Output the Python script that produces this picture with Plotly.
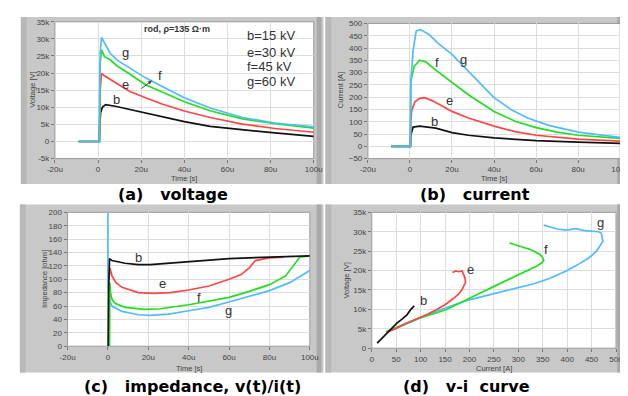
import plotly.graph_objects as go

# ---------------- data ----------------
# (a) voltage vs time  (time in microseconds, voltage in volts)
va_t_g = [-9, 0.6, 0.8, 1.0, 1.6, 3, 5.6, 9, 14.6, 22, 30, 40, 52, 67, 82, 100]
va_v_g = [0, 0, 15000, 26000, 30400, 28800, 25800, 23700, 21500, 18600, 16000, 12800, 9800, 7000, 5400, 4300]
va_t_f = [-9, 0.6, 0.8, 1.0, 1.6, 3, 5.6, 9, 14, 22, 30, 40, 52, 67, 82, 100]
va_v_f = [0, 0, 14500, 23000, 26800, 24800, 23900, 22000, 20000, 16600, 14400, 11600, 9000, 6600, 5200, 3900]
va_t_e = [-9, 0.6, 0.8, 1.0, 1.6, 3, 7, 14.6, 22, 30, 40, 52, 67, 82, 100]
va_v_e = [0, 0, 5000, 15000, 19900, 19200, 17600, 14700, 12800, 10900, 8900, 7000, 5100, 3800, 2700]
va_t_b = [-9, 0.6, 0.8, 1.2, 2, 3.5, 8, 14.6, 22, 30, 40, 52, 67, 82, 100]
va_v_b = [0, 0, 5000, 8500, 10000, 10800, 10300, 9400, 8300, 7200, 5800, 4400, 3400, 2500, 1500]

# (b) current vs time (A)
ib_t_g = [-9, 0.2, 0.4, 0.8, 1.5, 3, 5, 9, 14, 20, 25, 30, 35, 40, 48, 56, 66, 80, 100]
ib_i_g = [0, 0, 260, 300, 390, 470, 475, 455, 415, 374, 330, 282, 238, 198, 150, 115, 85, 58, 36]
ib_t_f = [-9, 0.2, 0.4, 0.8, 2, 4.6, 7.7, 12.3, 20, 27.8, 40, 50, 60, 70, 80, 100]
ib_i_f = [0, 0, 265, 280, 325, 350, 343, 310, 262, 210, 142, 102, 76, 58, 45, 32]
ib_t_e = [-9, 0.2, 0.4, 0.8, 2.3, 4.6, 7, 10.8, 20, 27.8, 40, 50, 60, 80, 100]
ib_i_e = [0, 0, 100, 145, 180, 195, 198, 185, 142, 115, 82, 60, 45, 29, 21]
ib_t_b = [-9, 0.2, 0.4, 1.5, 4.6, 12.3, 20, 27.8, 40, 50, 60, 80, 100]
ib_i_b = [0, 0, 45, 78, 82, 74, 56, 45, 34, 27, 23, 17, 12]

# (c) impedance vs time (ohm)
zc_t_g = [0, 0, 0.8, 2, 7, 15, 21, 30, 40, 50, 60, 67, 80, 90, 100]
zc_z_g = [230, 90, 68, 60, 52, 47, 46, 48, 53, 58, 66, 72, 83, 95, 113]
zc_t_f = [0.8, 0.9, 1.3, 2, 3.5, 8.5, 18, 26, 40, 50, 60, 70, 80, 88, 92, 95, 100]
zc_z_f = [0, 95, 80, 70, 64, 58, 55, 56, 62, 67, 73, 82, 92, 105, 122, 133, 135]
zc_t_e = [0.5, 1.0, 2, 4, 7, 15, 23, 31, 40, 50, 60, 66, 70, 73, 80, 87]
zc_z_e = [100, 117, 105, 95, 88, 80, 79, 80, 84, 90, 100, 107, 117, 128, 132, 133]
zc_t_b = [0.1, 0.3, 0.8, 2, 8.5, 15, 21, 30, 40, 50, 60, 70, 80, 90, 100]
zc_z_b = [0, 80, 131, 128, 124, 122, 122, 124, 127, 129, 131, 132, 133, 134, 135]

# (d) v-i curve
vi_i_b = [11, 20, 32, 42, 52, 62, 72, 80, 87]
vi_v_b = [1300, 2500, 4000, 5200, 6500, 7500, 8600, 10000, 10900]
vi_i_e = [32, 50, 65, 82, 98, 115, 132, 150, 165, 178, 185, 190, 192, 191, 188, 185, 178, 172, 165]
vi_v_e = [4200, 5100, 6100, 7000, 7800, 8800, 9900, 11200, 12600, 14000, 15100, 16200, 17000, 18000, 19000, 19900, 19700, 19900, 19500]
vi_i_f = [29, 60, 98, 125, 152, 175, 198, 220, 245, 270, 298, 320, 338, 348, 352, 350, 345, 335, 325, 310, 298, 282]
vi_v_f = [4200, 5800, 7800, 8800, 9900, 11300, 12800, 14100, 15600, 17100, 18700, 20000, 21200, 22000, 22600, 23300, 24100, 24800, 25400, 26000, 26500, 27100]
vi_i_g = [32, 80, 132, 165, 198, 230, 265, 300, 332, 365, 398, 420, 445, 460, 468, 473, 472, 470, 465, 451, 435, 418, 398, 380, 365, 352]
vi_v_g = [4200, 6700, 9500, 11000, 12400, 13400, 14500, 15500, 16600, 18000, 19900, 21400, 23300, 25000, 26600, 27500, 28300, 29600, 30000, 30200, 30300, 30800, 30400, 30700, 31200, 31700]

# tick labels
time_tickvals = [-20, 0, 20, 40, 60, 80, 100]
time_ticktext = ["-20u", "0", "20u", "40u", "60u", "80u", "100u"]
volt_tickvals = [-5000, 0, 5000, 10000, 15000, 20000, 25000, 30000, 35000]
volt_ticktext = ["-5k", "0", "5k", "10k", "15k", "20k", "25k", "30k", "35k"]
volt_tickvals_d = [0, 5000, 10000, 15000, 20000, 25000, 30000, 35000]
volt_ticktext_d = ["0", "5k", "10k", "15k", "20k", "25k", "30k", "35k"]
curr_tickvals = [-50, 0, 50, 100, 150, 200, 250, 300, 350, 400, 450, 500]
imp_tickvals = [0, 20, 40, 60, 80, 100, 120, 140, 160, 180, 200]
curr_tickvals_d = [0, 50, 100, 150, 200, 250, 300, 350, 400, 450, 500]

legend_lines = ["b=15 kV", "e=30 kV", "f=45 kV", "g=60 kV"]
NB = "\u00a0"
captions = ["(a)" + NB * 3 + "voltage", "(b)" + NB * 3 + "current",
            "(c)" + NB * 3 + "impedance," + NB + "v(t)/i(t)", "(d)" + NB * 3 + "v-i" + NB * 2 + "curve"]

# ---------------- figure ----------------
W, H = 628, 396
def px(x):
    return x / W
def py(y):
    return 1 - y / H

colors = {"b": "#111111", "e": "#ff4545", "f": "#22dd22", "g": "#50bbff"}
LW = 1.7

fig = go.Figure()

def add(xs, ys, name, xa, ya):
    fig.add_trace(go.Scatter(x=xs, y=ys, mode="lines", line=dict(color=colors[name], width=LW),
                             xaxis=xa, yaxis=ya, showlegend=False, hoverinfo="skip"))

add(va_t_b, va_v_b, "b", "x", "y")
add(va_t_e, va_v_e, "e", "x", "y")
add(va_t_f, va_v_f, "f", "x", "y")
add(va_t_g, va_v_g, "g", "x", "y")

add(ib_t_b, ib_i_b, "b", "x2", "y2")
add(ib_t_e, ib_i_e, "e", "x2", "y2")
add(ib_t_f, ib_i_f, "f", "x2", "y2")
add(ib_t_g, ib_i_g, "g", "x2", "y2")

add(zc_t_g, zc_z_g, "g", "x3", "y3")
add(zc_t_f, zc_z_f, "f", "x3", "y3")
add(zc_t_e, zc_z_e, "e", "x3", "y3")
add(zc_t_b, zc_z_b, "b", "x3", "y3")

add(vi_i_g, vi_v_g, "g", "x4", "y4")
add(vi_i_f, vi_v_f, "f", "x4", "y4")
add(vi_i_e, vi_v_e, "e", "x4", "y4")
add(vi_i_b, vi_v_b, "b", "x4", "y4")

tickfont = dict(family="Liberation Sans", size=8, color="#444")

def axis(domain, anchor, rng, tv, tt=None):
    d = dict(domain=domain, anchor=anchor, range=rng, tickvals=tv, showgrid=True,
             gridcolor="#dddddd", gridwidth=1, zeroline=False, ticks="outside", ticklen=3,
             tickcolor="#777", tickfont=tickfont, showline=False, fixedrange=True)
    if tt is not None:
        d["ticktext"] = tt
    return d

# plot-area pixel boxes (left, top, right, bottom)
boxes = {
    "a": (40, 10, 306, 150),
    "b": (361.7, 11.7, 621, 150),
    "c": (53, 205, 302, 342),
    "d": (365.7, 205, 616.7, 344),
}

def dom(box):
    l, t, r, b = box
    return [px(l), px(r)], [py(b), py(t)]

xa, ya = dom(boxes["a"])
xb, yb = dom(boxes["b"])
xc, yc = dom(boxes["c"])
xd, yd = dom(boxes["d"])

fig.update_layout(
    width=W, height=H, margin=dict(l=0, r=0, t=0, b=0),
    paper_bgcolor="white", plot_bgcolor="rgba(0,0,0,0)", showlegend=False,
    xaxis=axis(xa, "y", [-20, 100], time_tickvals, time_ticktext),
    yaxis=axis(ya, "x", [-5000, 35000], volt_tickvals, volt_ticktext),
    xaxis2=axis(xb, "y2", [-20, 100], time_tickvals, time_ticktext),
    yaxis2=axis(yb, "x2", [-50, 500], curr_tickvals),
    xaxis3=axis(xc, "y3", [-20, 100], time_tickvals, time_ticktext),
    yaxis3=axis(yc, "x3", [0, 200], imp_tickvals),
    xaxis4=axis(xd, "y4", [0, 500], curr_tickvals_d),
    yaxis4=axis(yd, "x4", [0, 35000], volt_tickvals_d, volt_ticktext_d),
)

# frames
frames = [
    (5, 5, 316, 176, "x", "y"),
    (318, 5, 625, 176, "x2", "y2"),
    (4, 197, 316, 369, "x3", "y3"),
    (318, 197, 625, 369, "x4", "y4"),
]
shapes = []
for (l, t, r, b, xr, yr) in frames:
    shapes.append(dict(type="rect", xref="paper", yref="paper", x0=px(l), x1=px(r), y0=py(b), y1=py(t),
                       fillcolor="#c8c8c8", line=dict(width=0), layer="below"))
    shapes.append(dict(type="rect", xref="paper", yref="paper", x0=px(l), x1=px(l + 6), y0=py(b), y1=py(t),
                       fillcolor="#b8b8b8", line=dict(width=0), layer="below"))
    shapes.append(dict(type="rect", xref="paper", yref="paper", x0=px(r - 7), x1=px(r - 2), y0=py(b), y1=py(t),
                       fillcolor="#a9a9a9", line=dict(width=0), layer="below"))
    shapes.append(dict(type="rect", xref=xr + " domain", yref=yr + " domain", x0=0, x1=1, y0=0, y1=1,
                       fillcolor="white", line=dict(color="#9a9a9a", width=1), layer="below"))

annotations = []
def ann(text, x, y, xref, yref, size=13, color="#333", xanchor="center", yanchor="middle", **kw):
    annotations.append(dict(text=text, x=x, y=y, xref=xref, yref=yref, showarrow=False,
                            font=dict(family="Liberation Sans", size=size, color=color),
                            xanchor=xanchor, yanchor=yanchor, **kw))

# curve labels
ann("g", 12.9, 26100, "x", "y")
ann("e", 12.9, 16600, "x", "y")
ann("f", 28.5, 19300, "x", "y")
ann("b", 8.4, 12300, "x", "y")
annotations.append(dict(x=25.0, y=17800, xref="x", yref="y", ax=-12, ay=9, showarrow=True,
                        arrowhead=2, arrowsize=0.8, arrowwidth=1, arrowcolor="#444", text=""))
ann("<b>rod, \u03c1=135 \u03a9\u00b7m</b>", 36.8, 33000, "x", "y", size=9)
for line, v in zip(legend_lines, [31000, 26100, 21800, 17500]):
    ann(line, 68, v, "x", "y", size=13, xanchor="left")

ann("g", 25.5, 355, "x2", "y2")
ann("f", 13, 339, "x2", "y2")
ann("e", 19, 188, "x2", "y2")
ann("b", 11.6, 101, "x2", "y2")

ann("b", 15, 132, "x3", "y3")
ann("e", 27, 93, "x3", "y3")
ann("f", 45.3, 73, "x3", "y3")
ann("g", 59.8, 54, "x3", "y3")

ann("b", 105, 12400, "x4", "y4")
ann("e", 202, 20400, "x4", "y4")
ann("f", 357, 25400, "x4", "y4")
ann("g", 468, 32300, "x4", "y4")

# axis titles
def atitle(text, x, y, angle=0):
    annotations.append(dict(text=text, x=px(x), y=py(y), xref="paper", yref="paper", showarrow=False,
                            textangle=angle, font=dict(family="Liberation Sans", size=7.5, color="#444"),
                            xanchor="center", yanchor="middle"))

atitle("Voltage [V]", 17, 80, -90)
atitle("Time [s]", 173, 170)
atitle("Current [A]", 333, 80, -90)
atitle("Time [s]", 491, 170)
atitle("Impedance [ohm]", 30, 273, -90)
atitle("Time [s]", 178, 365)
atitle("Voltage [V]", 340, 275, -90)
atitle("Current [A]", 491, 365)

# captions
for text, x, y in zip(captions, [161, 472, 181, 463], [187, 187, 383, 383]):
    annotations.append(dict(text="<b>" + text + "</b>", x=px(x), y=py(y), xref="paper", yref="paper",
                            showarrow=False, font=dict(family="DejaVu Sans", size=16, color="black"),
                            xanchor="center", yanchor="middle"))

fig.update_layout(shapes=shapes, annotations=annotations)
fig.write_html("out.html")
